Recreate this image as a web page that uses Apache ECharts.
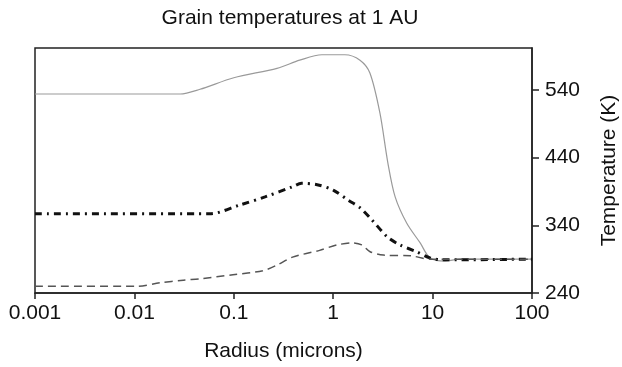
<!DOCTYPE html>
<html>
<head>
<meta charset="utf-8">
<script src="https://cdn.jsdelivr.net/npm/echarts@6/dist/echarts.min.js"></script>
<style>html,body{margin:0;padding:0;background:#fff}#c{width:622px;height:367px}</style>
</head>
<body>
<div id="c"></div>
<script>
const xTicks = [0.001, 0.01, 0.1, 1, 10, 100];
const yTicks = [240, 340, 440, 540];

const solidR = [0.001, 0.0288, 0.0457, 0.1, 0.272, 0.46, 0.77, 1.31, 1.86, 2.34, 2.95, 3.55, 4.2, 5.5, 7.5, 9.4, 13.3, 18.8, 100];
const solidT = [534, 534, 541, 558, 572, 584, 592, 592, 584, 565, 506, 432, 382, 343, 314, 292, 287, 290, 290];

const dashDotR = [0.001, 0.057, 0.115, 0.206, 0.39, 0.48, 0.69, 1.0, 1.42, 1.86, 2.45, 3.5, 4.7, 6.9, 9.4, 12.5, 100];
const dashDotT = [357, 357, 370, 382, 397, 402, 400, 392, 377, 366, 348, 323, 311, 301, 292, 289, 290];

const dashR = [0.001, 0.0106, 0.018, 0.031, 0.046, 0.098, 0.196, 0.27, 0.39, 0.73, 1.09, 1.58, 1.94, 2.35, 3.2, 6.0, 9.4, 100];
const dashT = [250, 250, 255, 259, 261, 267, 273, 281, 293, 303, 311, 314, 311, 301, 296, 295, 290, 290];

const zip = (a, b) => a.map((v, i) => [v, b[i]]);
const font = '"Liberation Sans", Arial, sans-serif';

const chart = echarts.init(document.getElementById('c'), null, {renderer: 'canvas'});
chart.setOption({
  animation: false,
  backgroundColor: '#fff',
  title: {
    text: 'Grain temperatures at 1 AU',
    left: 285, top: 3, textAlign: 'center',
    textStyle: {fontFamily: font, fontSize: 21, fontWeight: 'normal', color: '#111'}
  },
  grid: {left: 35, right: 90, top: 48, bottom: 74, outerBoundsMode: 'none', containLabel: false,
    show: true, borderColor: '#222', borderWidth: 1.5},
  xAxis: {
    type: 'log', logBase: 10, min: xTicks[0], max: xTicks[xTicks.length - 1],
    name: 'Radius (microns)', nameLocation: 'middle', nameGap: 48,
    nameTextStyle: {fontFamily: font, fontSize: 21, color: '#111'},
    axisLine: {lineStyle: {color: '#222', width: 1.5}},
    axisTick: {show: true, length: 6, inside: false, lineStyle: {color: '#222', width: 1.5}},
    minorTick: {show: false},
    splitLine: {show: false},
    axisLabel: {
      fontFamily: font, fontSize: 21, color: '#111', margin: 10,
      formatter: v => { const m = xTicks.find(t => Math.abs(Math.log10(t) - Math.log10(v)) < 1e-6); return m !== undefined ? String(m) : ''; }
    }
  },
  yAxis: {
    type: 'value', position: 'right', min: 240, max: 602, interval: 100,
    name: 'Temperature (K)', nameLocation: 'middle', nameGap: 67, nameRotate: 90,
    nameTextStyle: {fontFamily: font, fontSize: 21, color: '#111'},
    axisLine: {show: true, lineStyle: {color: '#222', width: 1.5}},
    axisTick: {show: true, length: 7, inside: false, lineStyle: {color: '#222', width: 1.5}},
    splitLine: {show: false},
    axisLabel: {fontFamily: font, fontSize: 21, color: '#111', margin: 13, showMaxLabel: false,
      formatter: v => yTicks.includes(v) ? String(v) : ''}
  },
  series: [
    {type: 'line', data: zip(solidR, solidT), symbol: 'none', smooth: 0.3,
      lineStyle: {color: '#9a9a9a', width: 1.2, type: 'solid'}},
    {type: 'line', data: zip(dashDotR, dashDotT), symbol: 'none', smooth: 0.3,
      lineStyle: {color: '#111', width: 3, type: [7, 5, 2, 5]}},
    {type: 'line', data: zip(dashR, dashT), symbol: 'none', smooth: 0.3,
      lineStyle: {color: '#555', width: 1.5, type: [8, 5]}}
  ]
});
</script>
</body>
</html>
